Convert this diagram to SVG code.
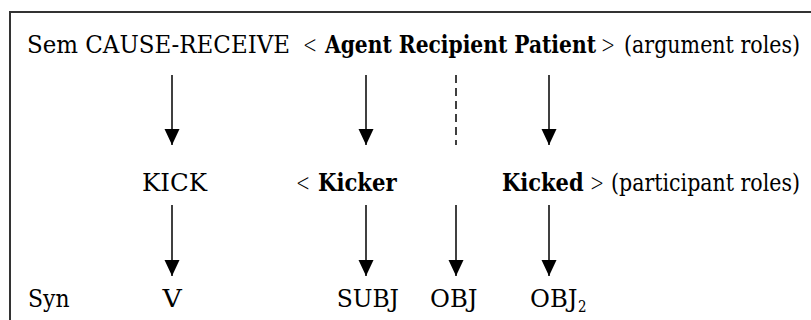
<svg xmlns="http://www.w3.org/2000/svg" width="811" height="320" viewBox="0 0 811 320">
  <style>
    text { font-family: "DejaVu Serif", "Liberation Serif", "Times New Roman", serif; font-stretch: condensed; font-size: 24.5px; fill: #000; }
    .b { font-weight: bold; }
    .sym { font-family: "DejaVu Sans", "Liberation Sans", sans-serif; font-weight: 200; font-stretch: normal; font-size: 24px; }
    .sub { font-size: 16px; }
    .frame { fill: none; stroke: #333; stroke-width: 2; }
    .link { stroke: #000; stroke-width: 1.5; fill: none; }
    .dash { stroke: #000; stroke-width: 1.5; fill: none; stroke-dasharray: 8 5; }
  </style>
  <defs>
    <!-- filled triangular head, drawn along +x and turned with the line -->
    <marker id="head" markerUnits="userSpaceOnUse" markerWidth="17" markerHeight="16" refX="16" refY="8" orient="auto" viewBox="0 0 17 16">
      <path d="M0,0.5 L16,8 L0,15.5 Z" fill="#000"/>
    </marker>
  </defs>

  <!-- frame: open on the right and bottom -->
  <path class="frame" d="M10,320 V12 H811"/>

  <g id="sem-row">
    <text x="27" y="53" textLength="263" lengthAdjust="spacingAndGlyphs">Sem CAUSE-RECEIVE</text>
    <text x="303" y="53" class="sym" textLength="14" lengthAdjust="spacingAndGlyphs">&lt;</text>
    <text x="325" y="53" class="b" textLength="271" lengthAdjust="spacingAndGlyphs">Agent Recipient Patient</text>
    <text x="601" y="53" class="sym" textLength="14" lengthAdjust="spacingAndGlyphs">&gt;</text>
    <text x="624" y="53" textLength="176" lengthAdjust="spacingAndGlyphs">(argument roles)</text>
  </g>

  <g id="participant-row">
    <text x="142" y="191" textLength="65" lengthAdjust="spacingAndGlyphs">KICK</text>
    <text x="296" y="191" class="sym" textLength="14" lengthAdjust="spacingAndGlyphs">&lt;</text>
    <text x="318" y="191" class="b" textLength="78.6" lengthAdjust="spacingAndGlyphs">Kicker</text>
    <text x="502" y="191" class="b" textLength="81.6" lengthAdjust="spacingAndGlyphs">Kicked</text>
    <text x="590" y="191" class="sym" textLength="14" lengthAdjust="spacingAndGlyphs">&gt;</text>
    <text x="611" y="191" textLength="189" lengthAdjust="spacingAndGlyphs">(participant roles)</text>
  </g>

  <g id="syn-row">
    <text x="28" y="307" textLength="41.5" lengthAdjust="spacingAndGlyphs">Syn</text>
    <text x="162.4" y="307" textLength="19.3" lengthAdjust="spacingAndGlyphs">V</text>
    <text x="336.7" y="307" textLength="62.3" lengthAdjust="spacingAndGlyphs">SUBJ</text>
    <text x="430" y="307" textLength="47.5" lengthAdjust="spacingAndGlyphs">OBJ</text>
    <text x="530" y="307" textLength="47.5" lengthAdjust="spacingAndGlyphs">OBJ</text>
    <text x="578" y="312" class="sub" textLength="8.5" lengthAdjust="spacingAndGlyphs">2</text>
  </g>

  <g id="connectors">
    <!-- argument roles to participant roles -->
    <line class="link" x1="172" y1="75" x2="172" y2="145" marker-end="url(#head)"/>
    <line class="link" x1="366" y1="75" x2="366" y2="145" marker-end="url(#head)"/>
    <line class="dash" x1="456" y1="75" x2="456" y2="145"/>
    <line class="link" x1="549" y1="75" x2="549" y2="145" marker-end="url(#head)"/>
    <!-- participant roles to grammatical functions -->
    <line class="link" x1="172" y1="205" x2="172" y2="276" marker-end="url(#head)"/>
    <line class="link" x1="366" y1="205" x2="366" y2="276" marker-end="url(#head)"/>
    <line class="link" x1="456" y1="205" x2="456" y2="276" marker-end="url(#head)"/>
    <line class="link" x1="549" y1="205" x2="549" y2="276" marker-end="url(#head)"/>
  </g>
</svg>
